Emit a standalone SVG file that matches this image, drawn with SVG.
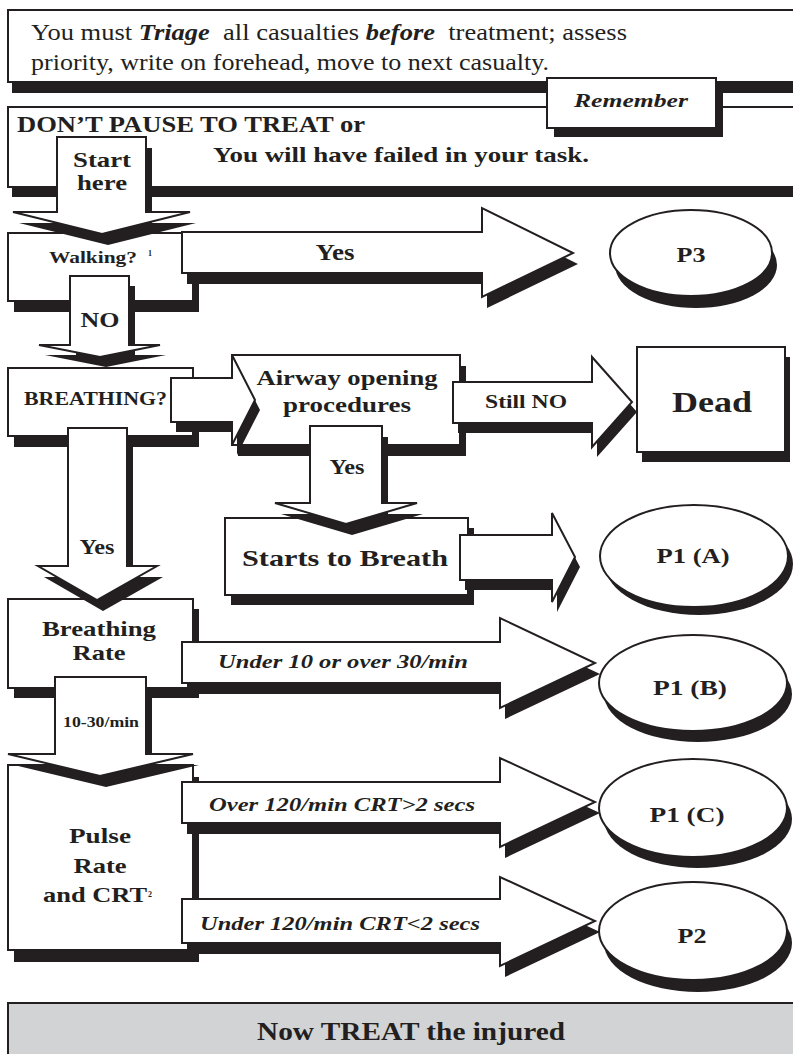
<svg xmlns="http://www.w3.org/2000/svg" width="793" height="1054" viewBox="0 0 793 1054">
<style>
.sh{fill:#231f20;stroke:none}
.fg{fill:#fff;stroke:#231f20;stroke-width:2;stroke-linejoin:miter}
.gr{fill:#d1d3d4;stroke:#231f20;stroke-width:2}
text{font-family:"Liberation Serif","Times New Roman",serif;fill:#231f20}
.b{font-weight:bold}
.bi{font-weight:bold;font-style:italic}
.c{text-anchor:middle}
</style>
<defs>
<rect id="r-top1" x="8" y="10" width="800" height="72"/>
<rect id="r-top2" x="8" y="107" width="800" height="80"/>
<rect id="r-rem" x="547" y="78" width="169" height="50"/>
<rect id="r-walk" x="8" y="233" width="185" height="68"/>
<rect id="r-breath" x="8" y="368" width="185" height="68"/>
<rect id="r-airway" x="232" y="355" width="228" height="90"/>
<rect id="r-dead" x="637" y="347" width="148" height="105"/>
<rect id="r-starts" x="225" y="518" width="243" height="77"/>
<rect id="r-rate" x="8" y="599" width="185" height="89"/>
<rect id="r-pulse" x="8" y="765" width="185" height="185"/>
<ellipse id="e-p3" cx="691" cy="253" rx="81" ry="43"/>
<ellipse id="e-p1a" cx="694" cy="556" rx="94" ry="51"/>
<ellipse id="e-p1b" cx="693" cy="683" rx="94" ry="48"/>
<ellipse id="e-p1c" cx="693" cy="808" rx="94" ry="49"/>
<ellipse id="e-p2" cx="693" cy="931" rx="94" ry="49"/>
<path id="a-start" d="M57,137 H146 V212 H190 L102,234 L13,212 H57 Z"/>
<path id="a-yes1" d="M182,232 H482 V208 L573,253 L482,297 V273 H182 Z"/>
<path id="a-no" d="M70,276 H129 V345 H160 L100,357 L39,345 H70 Z"/>
<path id="a-br-air" d="M171,378 H232 V355 L255,400 L232,445 V422 H171 Z"/>
<path id="a-still" d="M453,382 H592 V357 L632,402 L592,447 V423 H453 Z"/>
<path id="a-yes3" d="M310,426 H382 V503 H417 L346,524 L275,503 H310 Z"/>
<path id="a-yes2" d="M68,428 H127 V566 H157 L97,600 L38,566 H68 Z"/>
<path id="a-starts" d="M460,535 H552 V513 L575,557 L552,602 V580 H460 Z"/>
<path id="a-under10" d="M182,642 H500 V618 L595,663 L500,708 V683 H182 Z"/>
<path id="a-1030" d="M55,677 H146 V754 H193 L100,776 L8,754 H55 Z"/>
<path id="a-over120" d="M182,782 H500 V758 L595,802 L500,847 V823 H182 Z"/>
<path id="a-under120" d="M182,899 H500 V877 L595,921 L500,966 V943 H182 Z"/>
</defs>

<g id="intro">
<use href="#r-top1" class="sh" transform="translate(4,11)"/>
<use href="#r-top1" class="fg"/>
<text x="31" y="40" font-size="23" textLength="596" lengthAdjust="spacingAndGlyphs">You must <tspan class="bi">Triage</tspan>&#160; all casualties <tspan class="bi">before</tspan>&#160; treatment; assess</text>
<text x="31" y="70" font-size="23" textLength="518" lengthAdjust="spacingAndGlyphs">priority, write on forehead, move to next casualty.</text>
</g>

<g id="warning">
<use href="#r-top2" class="sh" transform="translate(4,10)"/>
<use href="#r-top2" class="fg"/>
<text class="b" x="17" y="132" font-size="24" textLength="348" lengthAdjust="spacingAndGlyphs">DON’T PAUSE TO TREAT or</text>
<text class="b" x="213" y="162" font-size="22" textLength="376" lengthAdjust="spacingAndGlyphs">You will have failed in your task.</text>
</g>

<g id="remember">
<use href="#r-rem" class="sh" transform="translate(7,9)"/>
<use href="#r-rem" class="fg"/>
<text class="bi c" x="631" y="107" font-size="19" textLength="114" lengthAdjust="spacingAndGlyphs">Remember</text>
</g>

<g id="walking">
<use href="#r-walk" class="sh" transform="translate(6,11)"/>
<use href="#r-walk" class="fg"/>
<text class="b" x="49" y="263" font-size="17" textLength="88" lengthAdjust="spacingAndGlyphs">Walking?</text>
<text class="b" x="148" y="256" font-size="8">1</text>
</g>

<g id="p3">
<use href="#e-p3" class="sh" transform="translate(5,12)"/>
<use href="#e-p3" class="fg"/>
<text class="b c" x="691" y="262" font-size="21" textLength="29" lengthAdjust="spacingAndGlyphs">P3</text>
</g>

<g id="breathing">
<use href="#r-breath" class="sh" transform="translate(6,11)"/>
<use href="#r-breath" class="fg"/>
<text class="b" x="24" y="405" font-size="19" textLength="143" lengthAdjust="spacingAndGlyphs">BREATHING?</text>
</g>

<g id="airway">
<use href="#r-airway" class="sh" transform="translate(6,11)"/>
<use href="#r-airway" class="fg"/>
<text class="b c" x="347" y="385" font-size="22" textLength="181" lengthAdjust="spacingAndGlyphs">Airway opening</text>
<text class="b c" x="347" y="412" font-size="22" textLength="128" lengthAdjust="spacingAndGlyphs">procedures</text>
</g>

<g id="dead">
<use href="#r-dead" class="sh" transform="translate(5,10)"/>
<use href="#r-dead" class="fg"/>
<text class="b c" x="712" y="412" font-size="30" textLength="80" lengthAdjust="spacingAndGlyphs">Dead</text>
</g>

<g id="starts">
<use href="#r-starts" class="sh" transform="translate(6,10)"/>
<use href="#r-starts" class="fg"/>
<text class="b" x="242" y="566" font-size="24" textLength="206" lengthAdjust="spacingAndGlyphs">Starts to Breath</text>
</g>

<g id="p1a">
<use href="#e-p1a" class="sh" transform="translate(5,8)"/>
<use href="#e-p1a" class="fg"/>
<text class="b c" x="693" y="563" font-size="20" textLength="73" lengthAdjust="spacingAndGlyphs">P1 (A)</text>
</g>

<g id="rate">
<use href="#r-rate" class="sh" transform="translate(6,10)"/>
<use href="#r-rate" class="fg"/>
<text class="b c" x="99" y="636" font-size="21" textLength="114" lengthAdjust="spacingAndGlyphs">Breathing</text>
<text class="b c" x="99" y="660" font-size="21" textLength="53" lengthAdjust="spacingAndGlyphs">Rate</text>
</g>

<g id="p1b">
<use href="#e-p1b" class="sh" transform="translate(5,11)"/>
<use href="#e-p1b" class="fg"/>
<text class="b c" x="690" y="695" font-size="20" textLength="74" lengthAdjust="spacingAndGlyphs">P1 (B)</text>
</g>

<g id="pulse">
<use href="#r-pulse" class="sh" transform="translate(6,12)"/>
<use href="#r-pulse" class="fg"/>
<text class="b c" x="100" y="843" font-size="21" textLength="62" lengthAdjust="spacingAndGlyphs">Pulse</text>
<text class="b c" x="100" y="873" font-size="21" textLength="53" lengthAdjust="spacingAndGlyphs">Rate</text>
<text class="b" x="43" y="902" font-size="21" textLength="104" lengthAdjust="spacingAndGlyphs">and CRT</text>
<text class="b" x="148" y="897" font-size="8">2</text>
</g>

<g id="p1c">
<use href="#e-p1c" class="sh" transform="translate(5,11)"/>
<use href="#e-p1c" class="fg"/>
<text class="b c" x="687" y="822" font-size="20" textLength="75" lengthAdjust="spacingAndGlyphs">P1 (C)</text>
</g>

<g id="p2">
<use href="#e-p2" class="sh" transform="translate(5,12)"/>
<use href="#e-p2" class="fg"/>
<text class="b c" x="692" y="943" font-size="20" textLength="29" lengthAdjust="spacingAndGlyphs">P2</text>
</g>

<g id="treat">
<rect x="8" y="1003" width="800" height="60" class="gr"/>
<text class="b" x="257" y="1040" font-size="25" textLength="308" lengthAdjust="spacingAndGlyphs">Now TREAT the injured</text>
</g>

<g id="connectors">
<g id="c-start">
<use href="#a-start" class="sh" transform="translate(6,11)"/>
<use href="#a-start" class="fg"/>
<text class="b c" x="102" y="167" font-size="21" textLength="58" lengthAdjust="spacingAndGlyphs">Start</text>
<text class="b c" x="102" y="190" font-size="21" textLength="50" lengthAdjust="spacingAndGlyphs">here</text>
</g>
<g id="c-walk-p3">
<use href="#a-yes1" class="sh" transform="translate(5,11)"/>
<use href="#a-yes1" class="fg"/>
<text class="b c" x="335" y="260" font-size="24" textLength="39" lengthAdjust="spacingAndGlyphs">Yes</text>
</g>
<g id="c-walk-breath">
<use href="#a-no" class="sh" transform="translate(6,10)"/>
<use href="#a-no" class="fg"/>
<text class="b c" x="100" y="327" font-size="22" textLength="39" lengthAdjust="spacingAndGlyphs">NO</text>
</g>
<g id="c-breath-airway">
<use href="#a-br-air" class="sh" transform="translate(5,10)"/>
<use href="#a-br-air" class="fg"/>
</g>
<g id="c-airway-dead">
<use href="#a-still" class="sh" transform="translate(5,10)"/>
<use href="#a-still" class="fg"/>
<text class="b c" x="526" y="408" font-size="18" textLength="82" lengthAdjust="spacingAndGlyphs">Still NO</text>
</g>
<g id="c-airway-starts">
<use href="#a-yes3" class="sh" transform="translate(6,11)"/>
<use href="#a-yes3" class="fg"/>
<text class="b c" x="347" y="474" font-size="21" textLength="35" lengthAdjust="spacingAndGlyphs">Yes</text>
</g>
<g id="c-breath-rate">
<use href="#a-yes2" class="sh" transform="translate(6,11)"/>
<use href="#a-yes2" class="fg"/>
<text class="b c" x="97" y="554" font-size="21" textLength="35" lengthAdjust="spacingAndGlyphs">Yes</text>
</g>
<g id="c-starts-p1a">
<use href="#a-starts" class="sh" transform="translate(5,10)"/>
<use href="#a-starts" class="fg"/>
</g>
<g id="c-rate-p1b">
<use href="#a-under10" class="sh" transform="translate(5,11)"/>
<use href="#a-under10" class="fg"/>
<text class="bi" x="218" y="668" font-size="18" textLength="250" lengthAdjust="spacingAndGlyphs">Under 10 or over 30/min</text>
</g>
<g id="c-rate-pulse">
<use href="#a-1030" class="sh" transform="translate(6,11)"/>
<use href="#a-1030" class="fg"/>
<text class="b c" x="101" y="727" font-size="14" textLength="76" lengthAdjust="spacingAndGlyphs">10-30/min</text>
</g>
<g id="c-pulse-p1c">
<use href="#a-over120" class="sh" transform="translate(5,11)"/>
<use href="#a-over120" class="fg"/>
<text class="bi" x="209" y="811" font-size="18" textLength="266" lengthAdjust="spacingAndGlyphs">Over 120/min CRT&gt;2 secs</text>
</g>
<g id="c-pulse-p2">
<use href="#a-under120" class="sh" transform="translate(5,11)"/>
<use href="#a-under120" class="fg"/>
<text class="bi" x="200" y="930" font-size="18" textLength="280" lengthAdjust="spacingAndGlyphs">Under 120/min CRT&lt;2 secs</text>
</g>
</g>
</svg>
